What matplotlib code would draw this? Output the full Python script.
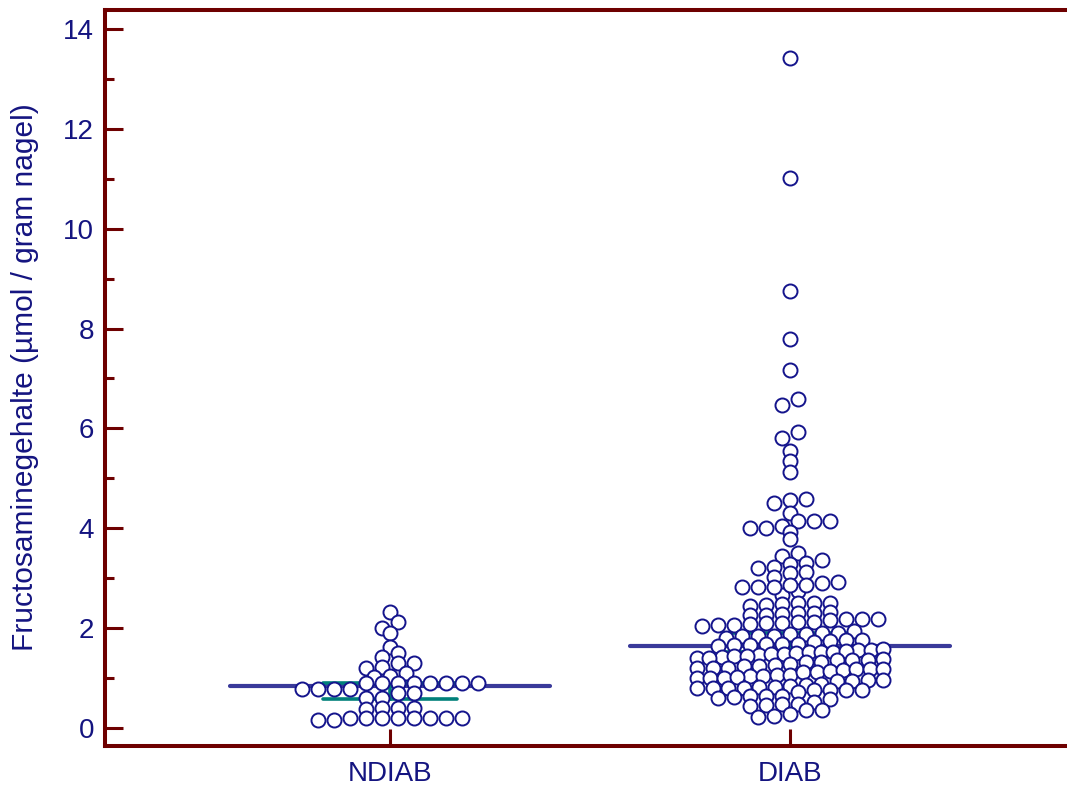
import numpy as np
import matplotlib
matplotlib.use("Agg")
import matplotlib.pyplot as plt

# ---------------- data ----------------
categories = ["NDIAB", "DIAB"]

ndiab = [2.32, 2.12, 2.01, 1.90, 1.62, 1.50, 1.42, 1.30, 1.30, 1.23, 1.21, 1.11,
         1.03, 1.04, 0.91, 0.91, 0.91, 0.91, 0.91, 0.91, 0.91, 0.91,
         0.79, 0.79, 0.79, 0.79, 0.71, 0.71, 0.61, 0.61,
         0.39, 0.41, 0.41, 0.41,
         0.21, 0.21, 0.21, 0.21, 0.21, 0.21, 0.21, 0.21, 0.16, 0.16]

diab = [13.41, 11.02, 8.76, 7.80, 7.16, 6.58, 6.46, 5.92, 5.81, 5.55, 5.35, 5.13,
        4.59, 4.57, 4.51, 4.30, 4.15, 4.15, 4.15, 4.05, 4.01, 4.01, 3.92, 3.78,
        3.50, 3.44, 3.36, 3.31, 3.28, 3.23, 3.21, 3.12, 3.11, 3.02,
        2.66, 2.75,
        2.82, 2.83, 2.82, 2.86, 2.86, 2.91, 2.93,
        2.46, 2.48, 2.50, 2.50, 2.50, 2.44,
        2.26, 2.26, 2.28, 2.31, 2.30, 2.33,
        2.04, 2.08, 2.06, 2.06, 2.11, 2.11, 2.13, 2.13, 2.16, 2.18, 2.19, 2.19,
        1.84, 1.84, 1.88, 1.88, 1.84, 1.91, 1.91, 1.95, 1.81,
        1.64, 1.69, 1.66, 1.67, 1.69, 1.69, 1.73, 1.76, 1.75, 1.76,
        1.43, 1.41, 1.41, 1.45, 1.47, 1.45, 1.49, 1.49, 1.51,
        1.53, 1.53, 1.53, 1.56, 1.55, 1.57, 1.59,
        1.21, 1.21, 1.21, 1.24, 1.24, 1.26, 1.28, 1.33, 1.33, 1.36, 1.36, 1.37, 1.39,
        1.01, 1.01, 1.01, 1.04, 1.03, 1.04, 1.06, 1.06,
        1.13, 1.13, 1.15, 1.17, 1.19, 1.19, 1.19,
        0.81, 0.81, 0.81, 0.83, 0.81, 0.83, 0.84, 0.86, 0.89, 0.95, 0.95, 0.97, 0.97,
        0.61, 0.63, 0.64, 0.64, 0.64, 0.73, 0.76, 0.76, 0.76, 0.77,
        0.44, 0.46, 0.48, 0.49, 0.53, 0.58,
        0.22, 0.24, 0.28, 0.36, 0.36]

# summary lines (centre line and bracket)
center_line = [0.84, 1.65]
bracket_low = [0.58, 1.53]
bracket_high = [0.895, 1.90]

yticks = [0, 2, 4, 6, 8, 10, 12, 14]
ylabel = "Fructosaminegehalte (µmol / gram nagel)"

# ---------------- style ----------------
NAVY = "#14148c"
LINE = "#3a3a9a"
TEAL = "#00807a"
MAROON = "#6e0000"
TXT = "#141480"

plt.rcParams["font.family"] = ["Liberation Sans", "DejaVu Sans"]

fig = plt.figure(figsize=(10.67, 7.87), dpi=100)
ax = fig.add_axes([105 / 1067, 41 / 787, (1067 - 105) / 1067, (746 - 10) / 787])
ax.set_xlim(-0.7125, 1.6925)
ax.set_ylim(-0.3605, 14.38)


def dot_layout(values, center, origin, binw=0.2, maxw=0.465, d=0.04):
    v = np.asarray(values, dtype=float)
    rows = np.floor((v - origin) / binw + 1e-9).astype(int)
    xs = np.zeros_like(v)
    for r in np.unique(rows):
        idx = np.where(rows == r)[0]
        idx = idx[np.argsort(v[idx], kind="stable")]
        n = len(idx)
        step = d if n <= 1 else min(d, maxw / (n - 1))
        xs[idx] = center + (np.arange(n) - (n - 1) / 2) * step
    return xs


groups = [ndiab, diab]
origins = [0.15, 0.0]

for i, vals in enumerate(groups):
    ax.plot([i - 0.4, i + 0.4], [center_line[i]] * 2, color=LINE, lw=3.0,
            solid_capstyle="round", zorder=2)
    ax.plot([i - 0.167, i + 0.167], [bracket_high[i]] * 2, color=TEAL, lw=2.6,
            solid_capstyle="round", zorder=2)
    ax.plot([i - 0.167, i + 0.167], [bracket_low[i]] * 2, color=TEAL, lw=2.6,
            solid_capstyle="round", zorder=2)
    ax.plot([i, i], [bracket_low[i], bracket_high[i]], color=TEAL, lw=2.6, zorder=2)
    xs = dot_layout(vals, i, origins[i])
    ax.scatter(xs, vals, s=10.1 ** 2, facecolor="white", edgecolor=NAVY,
               linewidth=1.4, zorder=3)

# spines
for side in ["left", "bottom", "top"]:
    ax.spines[side].set_color(MAROON)
    ax.spines[side].set_linewidth(2.9)
ax.spines["right"].set_visible(False)

ax.set_yticks(yticks)
ax.set_yticks(np.arange(1, 14, 2), minor=True)
ax.set_xticks(range(len(categories)))
ax.set_xticklabels(categories)

ax.tick_params(axis="y", which="major", direction="in", length=13, width=2.2,
               color=MAROON, labelcolor=TXT, labelsize=20, pad=8)
ax.tick_params(axis="y", which="minor", direction="in", length=6.5, width=2.2,
               color=MAROON)
ax.tick_params(axis="x", which="major", direction="in", length=12, width=2.2,
               color=MAROON, labelcolor=TXT, labelsize=20, pad=11)
ax.tick_params(axis="x", which="minor", bottom=False)

fig.text(25 / 1067, 1 - 377.5 / 787, ylabel, rotation=90, ha="center",
         va="center", color=TXT, fontsize=21.5)

fig.savefig("out.png", dpi=100)
